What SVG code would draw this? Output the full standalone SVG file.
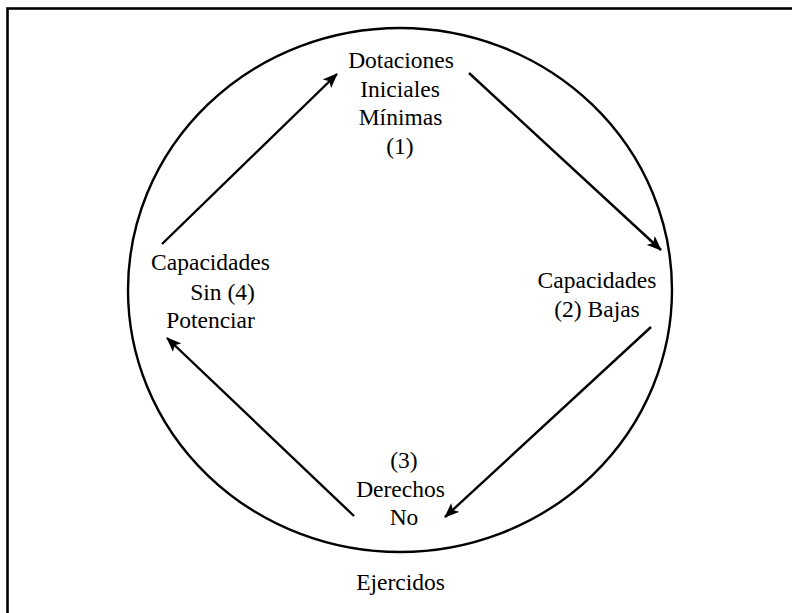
<svg xmlns="http://www.w3.org/2000/svg" width="792" height="613" viewBox="0 0 792 613">
  <style>
    .frame { fill: none; stroke: #000; stroke-width: 2.6; }
    .ring { fill: none; stroke: #000; stroke-width: 2.4; }
    .link { fill: none; stroke: #000; stroke-width: 2.4; marker-end: url(#head); }
    .lbl { font-size: 23.5px; fill: #000; text-anchor: middle; }
  </style>
  <defs>
    <!-- solid notched arrowhead shared by all four connectors -->
    <marker id="head" viewBox="0 0 15 12" refX="14" refY="6" markerWidth="15" markerHeight="12" markerUnits="userSpaceOnUse" orient="auto">
      <path d="M0,0 L15,6 L0,12 L3.5,6 Z" fill="#000"/>
    </marker>
  </defs>

  <!-- outer frame (right and bottom edges run past the page) -->
  <rect class="frame" x="7.5" y="8.5" width="800" height="620"/>
  <ellipse class="ring" cx="400" cy="290" rx="272" ry="262"/>

  <g id="connectors">
    <line class="link" x1="162" y1="244" x2="337" y2="74"/>
    <line class="link" x1="469" y1="73" x2="661" y2="250"/>
    <line class="link" x1="651" y1="327" x2="445" y2="517"/>
    <line class="link" x1="354" y1="516" x2="167" y2="338"/>
  </g>

  <g class="lbl" font-family="'Liberation Serif', 'Times New Roman', serif">
    <g id="n1">
      <text x="401" y="67.5">Dotaciones</text>
      <text x="400" y="96.5">Iniciales</text>
      <text x="400.5" y="125">Mínimas</text>
      <text x="400" y="153.5">(1)</text>
    </g>
    <g id="n2">
      <text x="597" y="288">Capacidades</text>
      <text x="597" y="317">(2) Bajas</text>
    </g>
    <g id="n3">
      <text x="404" y="467.5">(3)</text>
      <text x="400.5" y="496.5">Derechos</text>
      <text x="404" y="525">No</text>
      <text x="400.5" y="590">Ejercidos</text>
    </g>
    <g id="n4">
      <text x="210.5" y="270">Capacidades</text>
      <text x="222.5" y="299.5">Sin (4)</text>
      <text x="210.5" y="327.5">Potenciar</text>
    </g>
  </g>
</svg>
